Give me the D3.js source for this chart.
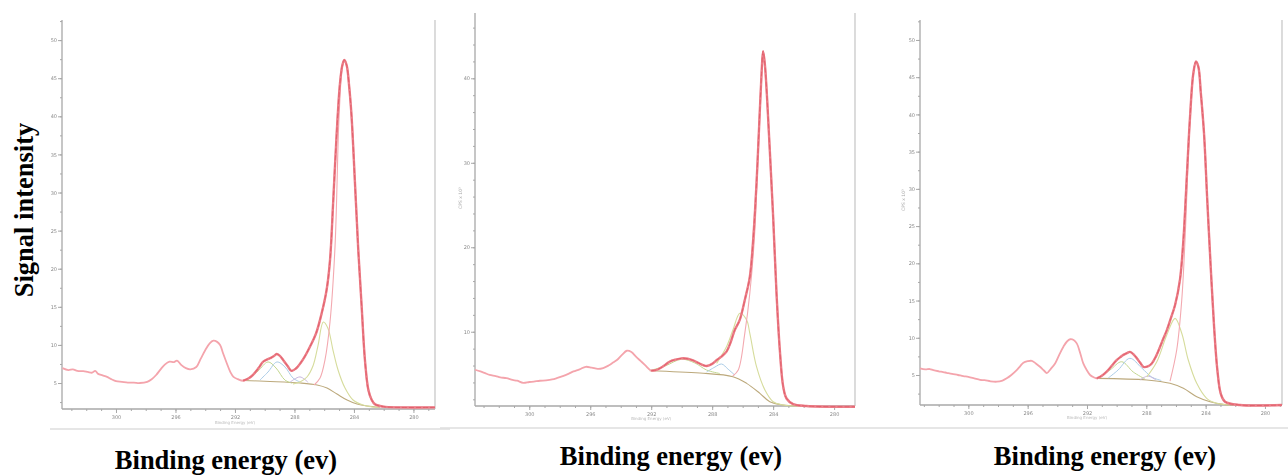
<!DOCTYPE html>
<html>
<head>
<meta charset="utf-8">
<script src="https://cdn.jsdelivr.net/npm/d3@7"></script>
<style>
  body { margin: 0; background: #fff; }
  svg { display: block; }
</style>
</head>
<body>
<div id="chart"></div>
<script>
// binding energy tick labels (eV), shared by the three spectra
const xTickLabels = [300, 296, 292, 288, 284, 280];
const yTicks1 = [5, 10, 15, 20, 25, 30, 35, 40, 45, 50];
const yTicks2 = [10, 20, 30, 40];
const yTicks3 = [5, 10, 15, 20, 25, 30, 35, 40, 45, 50];

// panel 1 : [binding energy, counts x10^3]
const p1Raw = [[303.6,6.95],[303.2,6.7],[302.9,6.8],[302.6,6.6],[302.2,6.55],[301.9,6.45],[301.6,6.35],[301.4,6.6],[301.2,6.2],
  [300.9,6.0],[300.6,5.8],[300.3,5.5],[300.0,5.25],[299.6,5.15],[299.2,5.05],[298.8,5.05],[298.4,5.0],[297.9,5.15],
  [297.6,5.5],[297.3,6.05],[297.0,6.8],[296.7,7.45],[296.4,7.8],[296.1,7.75],[295.9,7.95],[295.6,7.35],[295.3,6.95],
  [295.0,6.8],[294.6,7.1],[294.3,8.2],[294.0,9.3],[293.7,10.2],[293.45,10.55],[293.2,10.4],[293.0,10.0],[292.8,8.9],
  [292.55,7.6],[292.3,6.4],[292.1,5.8],[291.8,5.5],[291.45,5.3],[291.1,5.6],[290.8,6.05],[290.4,7.0],[290.1,7.8],
  [289.65,8.25],[289.4,8.5],[289.2,8.8],[289.0,8.6],[288.75,8.0],[288.45,7.2],[288.2,6.6],[287.9,6.9],[287.6,7.6],
  [287.3,8.5],[286.95,9.8],[286.55,11.5],[286.17,14.15],[285.84,17.2],[285.61,21.1],[285.39,29.0],[285.16,37.8],
  [284.94,44.3],[284.78,46.7],[284.65,47.4],[284.49,46.7],[284.32,43.9],[284.16,40.0],[283.93,31.2],[283.71,22.5],
  [283.48,15.0],[283.26,8.0],[283.03,4.1],[282.81,2.8],[282.58,2.2],[282.02,1.9],[280.9,1.8],[278.55,1.8]];
const p1Bg = [[291.46,5.33],[289.64,5.2],[287.63,5.0],[286.48,4.74],[285.81,4.34],[285.14,3.55],[284.46,2.77],
  [283.79,2.24],[283.12,1.98],[282.25,1.81]];
const p1Main = [[286.68,4.74],[286.28,5.66],[285.95,8.0],[285.61,13.0],[285.27,23.0],[285.0,40.0],[284.78,46.5],
  [284.65,47.3],[284.49,46.6],[284.32,43.8],[284.16,39.9],[283.93,31.0],[283.71,22.3],[283.48,14.8],[283.26,7.8],
  [283.03,3.9],[282.58,2.1],[282.0,1.85]];
const p1CO = [[288.1,4.87],[287.63,5.13],[287.16,5.79],[286.75,7.26],[286.42,9.87],[286.06,13.0],[285.75,12.2],
  [285.41,9.33],[285.07,6.71],[284.6,4.34],[284.06,2.77],[283.39,2.12],[282.38,1.78]];
const p1CdO = [[290.32,5.39],[289.78,6.44],[289.18,7.76],[288.64,7.11],[288.1,5.66],[287.63,5.13]];
const p1OCO = [[291.19,5.39],[290.45,6.57],[289.78,7.76],[289.24,6.97],[288.64,5.39],[288.16,4.99]];
const p1Small = [[288.3,5.1],[287.63,5.8],[287.09,5.1]];

// panel 2
const p2Raw = [[303.56,5.5],[303.2,5.3],[302.9,5.1],[302.6,4.9],[302.2,4.75],[301.9,4.6],[301.5,4.5],[301.1,4.3],
  [300.8,4.2],[300.4,3.95],[300.0,4.05],[299.7,4.1],[299.3,4.2],[298.9,4.25],[298.5,4.35],[298.2,4.5],[297.8,4.75],
  [297.4,5.05],[297.1,5.3],[296.7,5.55],[296.3,5.85],[295.9,5.75],[295.5,5.6],[295.15,5.7],[294.8,6.0],[294.5,6.35],
  [294.25,6.65],[293.9,7.3],[293.6,7.75],[293.3,7.6],[293.0,7.05],[292.7,6.55],[292.4,6.05],[292.0,5.4],[291.7,5.45],
  [291.4,5.7],[291.1,6.05],[290.8,6.45],[290.4,6.7],[290.0,6.85],[289.6,6.8],[289.25,6.6],[288.9,6.3],[288.6,6.05],
  [288.35,5.95],[288.0,6.2],[287.7,6.65],[287.4,7.05],[287.06,7.65],[286.8,8.7],[286.52,10.2],[286.19,11.4],
  [285.86,13.76],[285.53,16.5],[285.31,20.9],[285.09,27.6],[284.92,34.3],[284.76,40.6],[284.66,43.2],[284.55,41.8],
  [284.39,37.4],[284.22,31.5],[284.0,23.6],[283.78,14.6],[283.56,7.8],[283.34,3.5],[283.12,2.1],[282.69,1.44],
  [281.81,1.21],[278.63,1.12]];
const p2Bg = [[292.09,5.39],[288.81,5.11],[286.64,4.68],[285.74,3.89],[284.87,2.71],[284.22,1.72],[283.34,1.33],[282.47,1.21]];
const p2Main = [[286.65,4.76],[286.29,5.47],[285.86,9.81],[285.53,14.55],[285.2,22.0],[284.94,34.0],[284.76,40.5],
  [284.66,43.1],[284.55,41.7],[284.39,37.3],[284.22,31.4],[284.0,23.5],[283.78,14.4],[283.56,7.7],[283.34,3.4],
  [283.12,2.0],[282.69,1.4],[281.8,1.2]];
const p2CO = [[287.71,6.26],[287.06,8.23],[286.64,10.2],[286.18,12.18],[285.74,11.39],[285.53,9.81],[285.09,5.86],
  [284.54,3.1],[284.0,1.72],[283.34,1.33],[282.25,1.21]];
const p2OCO = [[292.09,5.39],[291.1,5.94],[290.01,6.74],[289.13,6.3],[288.37,5.47],[287.5,5.06]];
const p2CdO = [[288.37,5.23],[287.82,5.82],[287.38,6.18],[286.97,5.59],[286.52,4.88]];

// panel 3
const p3Raw = [[303.26,5.9],[302.9,5.75],[302.6,5.8],[302.36,5.65],[302.0,5.5],[301.7,5.4],[301.46,5.3],[301.1,5.15],
  [300.7,5.0],[300.34,4.85],[300.0,4.75],[299.6,4.55],[299.21,4.35],[298.9,4.3],[298.5,4.15],[298.08,4.1],[297.7,4.25],
  [297.41,4.55],[297.1,5.0],[296.74,5.65],[296.5,6.2],[296.29,6.65],[296.0,6.85],[295.72,6.9],[295.45,6.55],
  [295.17,6.1],[294.9,5.6],[294.71,5.25],[294.45,5.8],[294.15,6.55],[293.85,7.8],[293.59,8.8],[293.35,9.5],
  [293.13,9.8],[292.9,9.7],[292.69,9.25],[292.45,7.9],[292.25,6.55],[292.0,5.6],[291.79,5.0],[291.55,4.7],
  [291.34,4.55],[291.0,4.9],[290.67,5.45],[290.3,6.3],[290.0,7.0],[289.75,7.4],[289.55,7.7],[289.3,7.95],[289.1,8.1],
  [288.85,7.75],[288.64,7.25],[288.4,6.6],[288.2,6.1],[287.9,6.15],[287.63,6.55],[287.35,7.5],[287.07,8.8],
  [286.85,9.9],[286.62,11.0],[286.35,12.6],[286.06,14.4],[285.73,17.8],[285.5,23.1],[285.27,31.6],[285.05,39.7],
  [284.83,45.5],[284.65,47.1],[284.49,46.4],[284.32,42.8],[284.11,37.5],[283.89,28.5],[283.66,19.6],[283.43,11.5],
  [283.21,5.7],[282.98,2.5],[282.69,1.41],[281.68,0.97],[278.85,0.97]];
const p3Bg = [[291.34,4.55],[287.97,4.33],[286.4,3.88],[285.5,3.21],[284.6,2.08],[283.7,1.41],[282.81,1.06],[282.12,0.97]];
const p3Main = [[286.4,4.19],[285.95,8.36],[285.61,15.07],[285.39,23.13],[285.05,39.6],[284.83,45.4],[284.65,47.0],
  [284.49,46.3],[284.32,42.7],[284.11,37.4],[283.89,28.4],[283.66,19.5],[283.43,11.4],[283.21,5.6],[282.98,2.4],
  [282.69,1.35],[281.9,0.97]];
const p3CO = [[287.97,4.73],[287.3,6.74],[286.62,10.37],[286.06,12.61],[285.61,10.6],[285.17,7.01],[284.6,3.88],
  [283.93,1.87],[283.25,1.2],[282.36,0.97]];
const p3CdO = [[290.57,4.59],[289.9,5.67],[289.11,7.24],[288.31,5.94],[287.64,4.73],[286.99,4.26]];
const p3OCO = [[291.34,4.55],[290.45,5.67],[289.66,6.78],[288.88,5.4],[288.09,4.46]];
const p3Small = [[288.42,4.33],[287.89,4.86],[287.35,4.33]];

const W = 1288, H = 476;
const colors = { raw: "#f4a4ac", env: "#e2606c", main: "#f3a9b0", co: "#d6dc9c", cdo: "#a9cbe6",
  oco: "#c2d68e", small: "#c6b4dc", bg: "#bca97c", axis: "#a8a8a8" };

const panels = [
  { left: 62, right: 435, top: 20, bottom: 409, be: [303.63, 278.55], v: [1.59, 52.64], yTicks: yTicks1, yMinor: 2.5,
    fitFrom: 291.45, raw: p1Raw, bg: p1Bg, main: p1Main, co: p1CO, cdo: p1CdO, oco: p1OCO, small: p1Small,
    title: { x: 226, y: 469 }, unit: null, sep: [50, 450, 429], xlab: 418 },
  { left: 475, right: 855, top: 13, bottom: 406, be: [303.56, 278.63], v: [1.21, 47.73], yTicks: yTicks2, yMinor: 2,
    fitFrom: 292.0, raw: p2Raw, bg: p2Bg, main: p2Main, co: p2CO, cdo: p2CdO, oco: p2OCO, small: null,
    title: { x: 671, y: 465 }, unit: { x: 462, y: 198 }, sep: [440, 880, 428], xlab: 414 },
  { left: 920, right: 1282, top: 20, bottom: 405, be: [303.26, 278.85], v: [0.97, 52.68], yTicks: yTicks3, yMinor: 2.5,
    fitFrom: 291.35, raw: p3Raw, bg: p3Bg, main: p3Main, co: p3CO, cdo: p3CdO, oco: p3OCO, small: p3Small,
    title: { x: 1105, y: 465 }, unit: { x: 905, y: 200 }, sep: [880, 1288, 428], xlab: 413 }
];

const svg = d3.select("#chart").append("svg").attr("width", W).attr("height", H);

svg.append("defs").append("filter").attr("id", "soft")
  .append("feGaussianBlur").attr("stdDeviation", 0.45);

panels.forEach((p) => {
  const x = d3.scaleLinear().domain(p.be).range([p.left, p.right]);
  const y = d3.scaleLinear().domain(p.v).range([p.bottom, p.top]);
  const g = svg.append("g").attr("filter", "url(#soft)");

  // separator under the plot
  g.append("line").attr("x1", p.sep[0]).attr("x2", p.sep[1]).attr("y1", p.sep[2]).attr("y2", p.sep[2])
    .attr("stroke", "#dedede").attr("stroke-width", 1.5);

  // axes
  const xMinor = d3.range(279, 304, 1);
  const xAx = g.append("g").attr("transform", `translate(0,${p.bottom})`)
    .call(d3.axisBottom(x).tickValues(xMinor).tickSize(2).tickFormat(""));
  xAx.select(".domain").remove();
  xAx.selectAll("line").attr("stroke", colors.axis);
  const xMaj = g.append("g").attr("transform", `translate(0,${p.bottom})`)
    .call(d3.axisBottom(x).tickValues(xTickLabels).tickSize(4).tickPadding(2));
  xMaj.select(".domain").remove();
  xMaj.selectAll("line").attr("stroke", colors.axis);
  xMaj.selectAll("text").attr("font-size", 5).attr("fill", "#8a8a8a").attr("font-family", "DejaVu Sans");

  const yMinorVals = d3.range(p.yMinor, p.v[1], p.yMinor);
  const yAx = g.append("g").attr("transform", `translate(${p.left},0)`)
    .call(d3.axisLeft(y).tickValues(yMinorVals).tickSize(2).tickFormat(""));
  yAx.select(".domain").remove();
  yAx.selectAll("line").attr("stroke", colors.axis);
  const yMaj = g.append("g").attr("transform", `translate(${p.left},0)`)
    .call(d3.axisLeft(y).tickValues(p.yTicks).tickSize(4).tickPadding(1));
  yMaj.select(".domain").remove();
  yMaj.selectAll("line").attr("stroke", colors.axis);
  yMaj.selectAll("text").attr("font-size", 5).attr("fill", "#8a8a8a").attr("font-family", "DejaVu Sans");

  // frame lines
  g.append("line").attr("x1", p.left).attr("x2", p.left).attr("y1", p.top).attr("y2", p.bottom)
    .attr("stroke", colors.axis).attr("stroke-width", 1.3);
  g.append("line").attr("x1", p.left).attr("x2", p.right).attr("y1", p.bottom).attr("y2", p.bottom)
    .attr("stroke", colors.axis).attr("stroke-width", 1.3);
  g.append("line").attr("x1", p.right).attr("x2", p.right).attr("y1", p.top).attr("y2", p.bottom)
    .attr("stroke", "#c4c4c4").attr("stroke-width", 1.2);

  // faint instrument labels
  g.append("text").attr("x", x(292)).attr("y", p.xlab + 6).attr("text-anchor", "middle")
    .attr("font-size", 4).attr("fill", "#b8b8b8").attr("font-family", "DejaVu Sans")
    .text("Binding Energy (eV)");
  if (p.unit) {
    g.append("text").attr("transform", `translate(${p.unit.x},${p.unit.y}) rotate(-90)`)
      .attr("text-anchor", "middle").attr("font-size", 4.5).attr("fill", "#aaa")
      .attr("font-family", "DejaVu Sans").text("CPS x 10³");
  }

  const line = d3.line().x((d) => x(d[0])).y((d) => y(d[1])).curve(d3.curveCatmullRom.alpha(0.5));
  const comp = (data, col, w) => {
    if (!data) return;
    g.append("path").datum(data).attr("d", line).attr("fill", "none")
      .attr("stroke", col).attr("stroke-width", w);
  };

  comp(p.bg, colors.bg, 1.1);
  comp(p.oco, colors.oco, 1);
  comp(p.cdo, colors.cdo, 1);
  comp(p.small, colors.small, 1);
  comp(p.co, colors.co, 1.1);
  comp(p.main, colors.main, 1.1);

  // measured spectrum, then fitted envelope over the fit region
  comp(p.raw, colors.raw, 1.8);
  const fit = p.raw.filter((d) => d[0] <= p.fitFrom);
  g.append("path").datum(fit).attr("d", line).attr("fill", "none")
    .attr("stroke", "#ec7f89").attr("stroke-width", 2.4);
  g.append("path").datum(fit).attr("d", line).attr("fill", "none")
    .attr("stroke", colors.env).attr("stroke-width", 1).attr("stroke-dasharray", "5,2");

  // panel title
  svg.append("text").attr("x", p.title.x).attr("y", p.title.y).attr("text-anchor", "middle")
    .attr("font-family", "Liberation Serif, Times New Roman, serif").attr("font-weight", "bold")
    .attr("font-size", 26.5).text("Binding energy (ev)");
});

svg.append("text").attr("transform", "translate(33,210) rotate(-90)").attr("text-anchor", "middle")
  .attr("font-family", "Liberation Serif, Times New Roman, serif").attr("font-weight", "bold")
  .attr("font-size", 26.5).text("Signal intensity");
</script>
</body>
</html>
